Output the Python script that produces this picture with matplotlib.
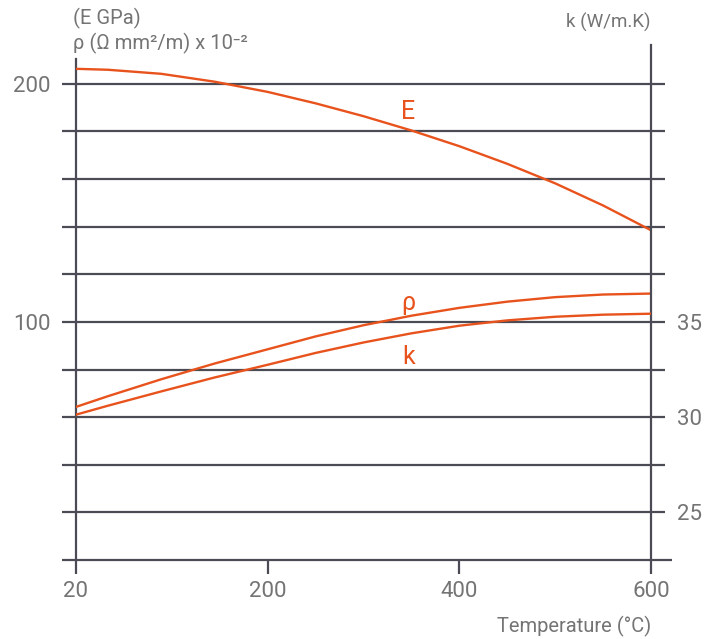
import numpy as np
import matplotlib
matplotlib.use('Agg')
import matplotlib.pyplot as plt

plt.rcParams['font.family'] = ['Roboto', 'DejaVu Sans']

# data
temp = [20, 50, 100, 150, 200, 250, 300, 350, 400, 450, 500, 550, 600]
E_gpa = [206.3, 205.9, 204.2, 200.9, 196.6, 191.8, 186.4, 180.4, 173.8, 166.4, 158.2, 148.9, 138.5]
rho = [64.3, 68.8, 75.9, 82.5, 88.5, 93.9, 98.6, 102.6, 105.9, 108.5, 110.4, 111.5, 111.9]
k_cond = [30.13, 30.6, 31.35, 32.08, 32.75, 33.37, 33.92, 34.4, 34.8, 35.08, 35.27, 35.38, 35.43]

x_ticks = [20, 200, 400, 600]
left_ticks = [100, 200]
right_ticks = [25, 30, 35]
grid_levels = [20, 40, 60, 80, 100, 120, 140, 160, 180, 200]

orange = '#E8531D'
dark = '#4B4B55'
grey = '#747474'

# the temperature axis is stretched so that 20 sits where 0 would be
def fwd(x):
    x = np.asarray(x, dtype=float)
    return np.where(x < 200, (x - 20) * 200.0 / 180.0, x)

def inv(y):
    y = np.asarray(y, dtype=float)
    return np.where(y < 200, y * 180.0 / 200.0 + 20, y)

fig = plt.figure(figsize=(7.19, 6.39), dpi=100)
ax = fig.add_axes([76/719, 1-560/639, 575/719, 515/639])
ax.set_xscale('function', functions=(fwd, inv))
ax.set_xlim(20, 600)
ax.set_ylim(0, 216.3)

ax2 = ax.twinx()
ax2.set_ylim(35 + (0 - 100) / 8, 35 + (216.3 - 100) / 8)

# horizontal rules, running a little past both verticals
ax.hlines(grid_levels, -0.0243, 1.0243, transform=ax.get_yaxis_transform(),
          colors=dark, lw=1.6, clip_on=False, zorder=1)
ax.hlines([0], -0.0243, 1.0365, transform=ax.get_yaxis_transform(),
          colors=dark, lw=1.6, clip_on=False, zorder=1)

ax.plot(temp, E_gpa, color=orange, lw=1.7, zorder=3)
ax.plot(temp, rho, color=orange, lw=1.7, zorder=3)
ax2.plot(temp, k_cond, color=orange, lw=1.7, zorder=3)

for s in ['top', 'bottom', 'right']:
    ax.spines[s].set_visible(False)
    ax2.spines[s].set_visible(s == 'right')
ax2.spines['left'].set_visible(False)
ax.spines['left'].set_color(dark)
ax.spines['left'].set_linewidth(1.6)
ax.spines['left'].set_bounds(0, 210.5)
ax2.spines['right'].set_color(dark)
ax2.spines['right'].set_linewidth(1.6)

ax.set_xticks(x_ticks)
ax.set_xticklabels([str(t) for t in x_ticks])
ax.xaxis.set_minor_locator(matplotlib.ticker.NullLocator())
ax.tick_params(axis='x', length=10, width=1.6, color=dark, pad=5,
               labelsize=16, labelcolor=grey)
ax.set_yticks(left_ticks)
ax.tick_params(axis='y', length=0, pad=18, labelsize=16, labelcolor=grey)
ax2.set_yticks(right_ticks)
ax2.tick_params(axis='y', length=0, pad=19, labelsize=16, labelcolor=grey)

ax.text(347, 188, 'E', color=orange, fontsize=18, ha='center', va='center')
ax.text(347, 108, 'ρ', color=orange, fontsize=18, ha='center', va='center')
ax.text(347, 85.3, 'k', color=orange, fontsize=18, ha='center', va='center')

fig.text(73/719, 1-18/639, '(E GPa)', color=grey, fontsize=14.5, ha='left', va='center')
fig.text(73/719, 1-43/639, 'ρ (Ω mm²/m) x 10⁻²', color=grey, fontsize=14.5, ha='left', va='center')
fig.text(651/719, 1-22/639, 'k (W/m.K)', color=grey, fontsize=13.5, ha='right', va='center')
fig.text(651/719, 1-626/639, 'Temperature (°C)', color=grey, fontsize=14.5, ha='right', va='center')

fig.savefig('out.png', dpi=100)
